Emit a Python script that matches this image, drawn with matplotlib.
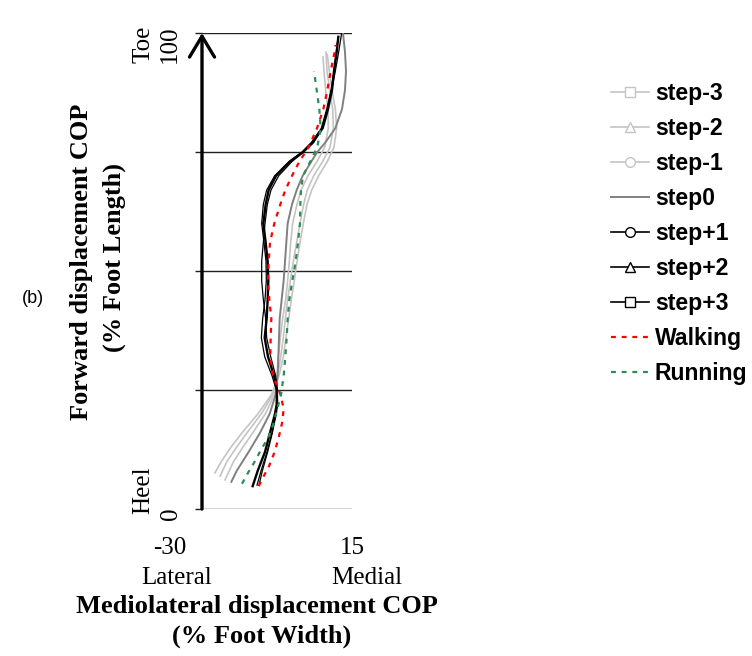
import matplotlib
matplotlib.use("Agg")
import matplotlib.pyplot as plt
from matplotlib.lines import Line2D

# ----------------------------------------------------------------------------
# COP trajectories: forward (% foot length) vs mediolateral (% foot width)
# ----------------------------------------------------------------------------

step_m3_fwd = [7.6, 10, 13, 16, 20, 24, 28, 32, 36, 40, 44, 48, 52, 56, 60,
               64, 67, 70, 73, 76, 80, 84, 88, 92, 95.5]
step_m3_ml = [-26.1, -24.2, -21.3, -18.0, -13.2, -9.2, -6.9, -5.6, -4.8, -4.0,
              -3.2, -2.3, -1.5, -0.6, 0.4, 1.5, 2.9, 5.0, 7.6, 9.6, 10.4,
              10.0, 9.0, 8.2, 7.6]

step_m2_fwd = [6.9, 10, 13, 16, 20, 24, 28, 32, 36, 40, 44, 48, 52, 56, 60,
               64, 67, 70, 73, 76, 80, 84, 88, 92, 96]
step_m2_ml = [-24.6, -22.5, -19.6, -16.5, -12.2, -8.8, -7.3, -6.4, -5.6, -5.0,
              -4.3, -3.5, -2.6, -1.6, -0.6, 0.5, 1.6, 3.5, 6.2, 8.4, 9.4,
              9.2, 8.3, 7.5, 7.2]

step_m1_fwd = [6.1, 10, 13, 16, 20, 24, 28, 32, 36, 40, 44, 48, 52, 56, 60,
               64, 67, 70, 73, 76, 80, 84, 88, 92, 95]
step_m1_ml = [-23.1, -20.5, -17.7, -14.8, -11.0, -8.3, -7.5, -7.1, -6.5, -5.8,
              -4.9, -4.3, -3.8, -3.4, -2.8, -1.5, -0.3, 1.8, 4.5, 6.8, 7.9,
              7.8, 7.1, 6.6, 6.3]

step0_fwd = [5.7, 8, 12, 16, 20, 24, 28, 32, 36, 40, 44, 48, 52, 56, 60, 64,
             67, 70, 73, 75, 77, 80, 84, 88, 92, 96, 100]
step0_ml = [-21.2, -19.6, -16.0, -12.6, -9.7, -7.9, -7.3, -7.1, -6.9, -6.7,
            -6.1, -5.5, -5.1, -4.7, -4.3, -3.0, -1.6, 0.2, 2.8, 4.6, 7.0, 10.0,
            12.0, 12.9, 13.2, 12.9, 12.3]

step_p1_fwd = [4.8, 8, 12, 16, 20, 22, 25, 28, 32, 36, 40, 44, 48, 52, 56, 60,
               64, 67, 70, 73, 75, 77, 80, 84, 88, 92, 96, 99.2]
step_p1_ml = [-14.8, -13.3, -11.1, -9.6, -8.1, -7.6, -7.5, -8.4, -10.2, -11.2,
              -10.6, -10.3, -10.1, -10.3, -10.9, -11.6, -10.9, -10.0, -7.8,
              -3.6, 0.3, 3.2, 6.2, 7.8, 9.0, 9.6, 10.4, 10.9]

step_p2_fwd = [5.0, 8, 12, 16, 20, 22, 25, 28, 32, 36, 40, 44, 48, 52, 56, 60,
               64, 67, 70, 73, 75, 77, 80, 84, 88, 92, 96, 98]
step_p2_ml = [-13.5, -12.3, -10.5, -9.0, -7.9, -7.5, -7.7, -9.0, -11.2, -12.2,
              -11.8, -11.1, -10.7, -10.8, -11.4, -12.1, -11.6, -10.6, -8.2,
              -3.9, 0.0, 2.8, 5.8, 7.4, 8.7, 9.6, 10.3, 10.6]

step_p3_fwd = [5.3, 8, 12, 16, 20, 22, 25, 28, 32, 36, 40, 44, 48, 52, 56, 60,
               64, 67, 70, 73, 75, 77, 80, 84, 88, 92, 96, 100]
step_p3_ml = [-12.8, -11.9, -10.3, -8.9, -7.7, -7.3, -7.4, -7.9, -9.4, -10.6,
              -10.9, -11.6, -12.1, -12.1, -11.6, -11.1, -10.4, -9.3, -7.0,
              -3.0, 0.5, 3.5, 6.0, 7.6, 8.9, 10.0, 11.0, 11.9]

walk_fwd = [4.8, 7, 9, 12, 15, 18, 21, 24, 28, 32, 36, 40, 44, 48, 52, 56, 60,
            64, 67, 70, 73, 76, 80, 84, 88, 92, 96, 97.5]
walk_ml = [-13.0, -11.4, -9.9, -8.2, -7.0, -6.0, -5.5, -6.4, -8.7, -9.5, -9.4,
           -9.2, -9.8, -10.2, -10.0, -9.6, -8.3, -6.5, -5.0, -3.0, -0.8, 2.0,
           4.5, 6.4, 7.6, 8.6, 9.8, 10.1]

run_fwd = [5.3, 7.6, 9.7, 12.8, 14.9, 17.6, 20.8, 24, 28, 32, 36, 40, 44, 48,
           52, 56, 60, 64, 67, 70, 73, 76, 80, 84, 88, 92]
run_ml = [-18.0, -16.2, -14.4, -12.0, -10.2, -8.7, -7.5, -6.3, -5.5, -5.0,
          -4.6, -4.3, -3.8, -2.9, -1.9, -1.2, -0.6, -0.5, -0.3, 0.3, 2.5, 4.6,
          5.6, 5.2, 4.4, 3.6]

grid_levels = [0, 25, 50, 75, 100]

LIGHT = "#c4c4c4"
MID = "#808080"
RED = "#ff0000"
GREEN = "#2e8b57"
SERIF = ["Liberation Serif", "DejaVu Serif"]
SANS = ["Liberation Sans", "DejaVu Sans"]

fig = plt.figure(figsize=(7.52, 6.56), dpi=100)
ax = fig.add_axes([202 / 752, 1 - 509 / 656, 150 / 752, 476 / 656])

dots = (0, (2.2, 2.6))
ax.plot(step_m3_ml, step_m3_fwd, color=LIGHT, lw=1.2)
ax.plot(step_m2_ml, step_m2_fwd, color=LIGHT, lw=1.2)
ax.plot(step_m1_ml, step_m1_fwd, color=LIGHT, lw=1.2)
ax.plot(step0_ml, step0_fwd, color=MID, lw=1.4)
ax.plot(step_p3_ml, step_p3_fwd, color="black", lw=0.9)
ax.plot(step_p2_ml, step_p2_fwd, color="black", lw=0.9)
ax.plot(step_p1_ml, step_p1_fwd, color="black", lw=1.7)
ax.plot(walk_ml, walk_fwd, color=RED, lw=1.6, linestyle=dots)
ax.plot(run_ml, run_fwd, color=GREEN, lw=1.6, linestyle=dots)

ax.set_xlim(-30, 15)
ax.set_ylim(0, 100)
ax.set_yticks(grid_levels)
ax.set_yticklabels([])
ax.set_xticks([])
ax.yaxis.grid(True, color="#222222", lw=1.0)
ax.tick_params(axis="y", direction="out", length=5, width=1, color="#222222")
for s in ax.spines.values():
    s.set_visible(False)

# left axis drawn as an arrow pointing to the toe
ax.annotate("", xy=(0, 1.0), xycoords="axes fraction",
            xytext=(0, 0), textcoords="axes fraction",
            arrowprops=dict(arrowstyle="->,head_length=0.75,head_width=0.45",
                            lw=2.4, color="black", shrinkA=0, shrinkB=0,
                            mutation_scale=20),
            annotation_clip=False)


def px(x, y):
    return x / 752, 1 - y / 656


tk = dict(family=SERIF, fontsize=18, ha="center", va="center")
fig.text(*px(143, 44), "Toe", rotation=90, **tk)
fig.text(*px(170, 44), "100", rotation=90, **tk)
fig.text(*px(143, 490), "Heel", rotation=90, **tk)
fig.text(*px(171, 514), "0", rotation=90, **tk)
fig.text(*px(170, 548), "-30", **tk)
fig.text(*px(352, 548), "15", **tk)
fig.text(*px(177, 578), "Lateral", **tk)
fig.text(*px(367, 578), "Medial", **tk)

lb = dict(family=SERIF, fontsize=19, fontweight="bold", ha="center",
          va="center")
fig.text(*px(257, 607), "Mediolateral displacement COP", **lb)
fig.text(*px(262, 636), "(% Foot Width)", **lb)
fig.text(*px(82, 262), "Forward displacement COP", rotation=90, **lb)
fig.text(*px(114, 258), "(% Foot Length)", rotation=90, **lb)

fig.text(*px(33, 298), "(b)", family=SANS, fontsize=13, ha="center",
         va="center")

mk = dict(markersize=7, markerfacecolor="white", markeredgewidth=1.0)
handles = [
    Line2D([], [], color=LIGHT, lw=1.2, marker="s", markeredgecolor=LIGHT, **mk),
    Line2D([], [], color=LIGHT, lw=1.2, marker="^", markeredgecolor=LIGHT, **mk),
    Line2D([], [], color=LIGHT, lw=1.2, marker="o", markeredgecolor=LIGHT, **mk),
    Line2D([], [], color=MID, lw=1.4),
    Line2D([], [], color="black", lw=1.2, marker="o", markeredgecolor="black", **mk),
    Line2D([], [], color="black", lw=1.2, marker="^", markeredgecolor="black", **mk),
    Line2D([], [], color="black", lw=1.2, marker="s", markeredgecolor="black", **mk),
    Line2D([], [], color=RED, lw=1.6, linestyle=dots),
    Line2D([], [], color=GREEN, lw=1.6, linestyle=dots),
]
labels = ["step-3", "step-2", "step-1", "step0", "step+1", "step+2",
          "step+3", "Walking", "Running"]
fig.legend(handles, labels, loc="upper left", bbox_to_anchor=px(611, 82),
           frameon=False, handlelength=1.65, handletextpad=0.25,
           labelspacing=0.52, borderpad=0, borderaxespad=0,
           prop=dict(family=SANS, size=16.6, weight="bold"))

fig.savefig("out.png", dpi=100)
